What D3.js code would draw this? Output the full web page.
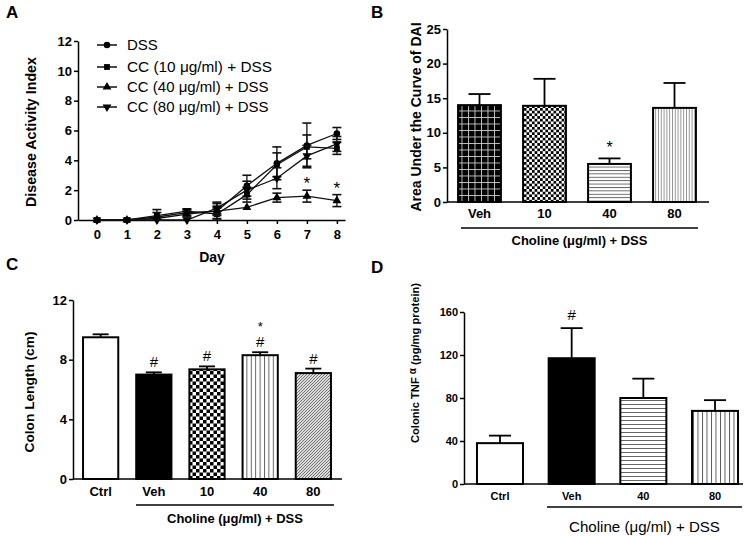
<!DOCTYPE html>
<html><head><meta charset="utf-8">
<script src="https://cdn.jsdelivr.net/npm/d3@7"></script>
<style>
body{margin:0;background:#fff;}
svg{display:block;font-family:"Liberation Sans",Arial,sans-serif;}
</style></head><body>
<svg id="c" width="750" height="536"></svg>
<script>
// ---------- Panel A data ----------
const days = [0,1,2,3,4,5,6,7,8];
const dayTicks = [0,1,2,3,4,5,6,7,8];
const daiTicks = [0,2,4,6,8,10,12];
const seriesNames = ["DSS","CC (10 μg/ml) + DSS","CC (40 μg/ml) + DSS","CC (80 μg/ml) + DSS"];
const dssMean   = [0,0,0.2,0.5,0.6,2.3,3.8,5.0,5.8];
const dssErr    = [0.05,0.05,0.3,0.2,0.5,0.7,1.1,1.5,0.4];
const cc10Mean  = [0,0,0.3,0.6,0.4,1.7,3.7,4.9,4.8];
const cc10Err   = [0.05,0.05,0.4,0.15,0.4,0.5,0.8,0.8,0.4];
const cc40Mean  = [0,0,0.1,0.4,0.6,0.85,1.5,1.6,1.3];
const cc40Err   = [0.05,0.05,0.1,0.2,0.3,0.1,0.3,0.4,0.4];
const cc80Mean  = [0,0,0.0,0.0,0.8,2.0,2.8,4.3,5.1];
const cc80Err   = [0.05,0.05,0.1,0.1,0.4,0.6,0.7,0.7,0.5];
const sigDaysA  = [7,8];

// ---------- Panel B data ----------
const catsB = ["Veh","10","40","80"];
const aucMean = [14.0,13.9,5.5,13.6];
const aucErr  = [1.6,3.9,0.8,3.6];
const aucTicks = [0,5,10,15,20,25];

// ---------- Panel C data ----------
const catsC = ["Ctrl","Veh","10","40","80"];
const colonMean = [9.5,7.0,7.35,8.3,7.1];
const colonErr  = [0.2,0.15,0.2,0.2,0.3];
const colonTicks = [0,4,8,12];
const colonHash = [false,true,true,true,true];
const colonStar = [false,false,false,true,false];

// ---------- Panel D data ----------
const catsD = ["Ctrl","Veh","40","80"];
const tnfMean = [38,117,80,68];
const tnfErr  = [7,28,18,10];
const tnfTicks = [0,40,80,120,160];
const tnfMarks = ["","#","",""];

const svg = d3.select("#c");
const defs = svg.append("defs");

function fit(sel,len){
  const cur = sel.node().getComputedTextLength();
  const fs = +sel.attr("font-size");
  if (cur>0) sel.attr("font-size", (fs*len/cur).toFixed(2));
  return sel;
}

// ---------- patterns ----------
function pat(id,w,h,draw){
  const p = defs.append("pattern").attr("id",id).attr("patternUnits","userSpaceOnUse").attr("width",w).attr("height",h);
  draw(p);
}
pat("gridB",6.5,6.5,p=>{
  p.append("rect").attr("width",6.5).attr("height",6.5).attr("fill","#000");
  p.append("line").attr("x1",0).attr("y1",0.5).attr("x2",6.5).attr("y2",0.5).attr("stroke","#ccc").attr("stroke-width",0.9);
  p.append("line").attr("x1",0.5).attr("y1",0).attr("x2",0.5).attr("y2",6.5).attr("stroke","#ccc").attr("stroke-width",0.9);
});
pat("checkB",5.4,5.4,p=>{
  p.append("rect").attr("width",5.4).attr("height",5.4).attr("fill","#fff");
  p.append("rect").attr("width",2.7).attr("height",2.7).attr("fill","#000");
  p.append("rect").attr("x",2.7).attr("y",2.7).attr("width",2.7).attr("height",2.7).attr("fill","#000");
});
pat("hlineB",4,3.4,p=>{
  p.append("rect").attr("width",4).attr("height",3.4).attr("fill","#fff");
  p.append("line").attr("x1",0).attr("y1",0.5).attr("x2",4).attr("y2",0.5).attr("stroke","#333").attr("stroke-width",0.8);
});
pat("vlineB",2.8,4,p=>{
  p.append("rect").attr("width",2.8).attr("height",4).attr("fill","#fff");
  p.append("line").attr("x1",0.5).attr("y1",0).attr("x2",0.5).attr("y2",4).attr("stroke","#777").attr("stroke-width",0.8);
});
pat("checkC",7,7,p=>{
  p.append("rect").attr("width",7).attr("height",7).attr("fill","#fff");
  p.append("rect").attr("width",3.5).attr("height",3.5).attr("fill","#000");
  p.append("rect").attr("x",3.5).attr("y",3.5).attr("width",3.5).attr("height",3.5).attr("fill","#000");
});
pat("vlineC",4.4,4,p=>{
  p.append("rect").attr("width",4.4).attr("height",4).attr("fill","#fff");
  p.append("line").attr("x1",0.5).attr("y1",0).attr("x2",0.5).attr("y2",4).attr("stroke","#555").attr("stroke-width",0.9);
});
pat("diagC",3,3,p=>{
  p.append("rect").attr("width",3).attr("height",3).attr("fill","#ddd");
  p.append("path").attr("d","M-1,4 L4,-1 M-1,1 L1,-1 M2,4 L4,2").attr("stroke","#555").attr("stroke-width",0.8);
});
pat("hlineD",4,4,p=>{
  p.append("rect").attr("width",4).attr("height",4).attr("fill","#fff");
  p.append("line").attr("x1",0).attr("y1",0.5).attr("x2",4).attr("y2",0.5).attr("stroke","#555").attr("stroke-width",0.9);
});
pat("vlineD",4.5,4,p=>{
  p.append("rect").attr("width",4.5).attr("height",4).attr("fill","#fff");
  p.append("line").attr("x1",0.5).attr("y1",0).attr("x2",0.5).attr("y2",4).attr("stroke","#444").attr("stroke-width",0.9);
});

function panelLabel(t,x,y){
  svg.append("text").attr("x",x).attr("y",y).attr("font-size",17).attr("font-weight","bold").text(t);
}
function styleAxis(g,fs){
  g.selectAll("path,line").attr("stroke","#000").attr("stroke-width",1.5);
  g.selectAll("text").attr("font-size",fs).attr("font-weight","bold").attr("font-family","Liberation Sans, Arial, sans-serif").attr("fill","#000");
}

// ================= Panel A =================
panelLabel("A",6,18);
const xA = d3.scaleLinear().domain([-0.63,8.27]).range([78,345]);
const yA = d3.scaleLinear().domain([0,12]).range([220,41]);
const gA = svg.append("g");
const axYA = gA.append("g").attr("transform","translate(78,0)")
  .call(d3.axisLeft(yA).tickValues(daiTicks).tickSize(4).tickSizeOuter(0).tickPadding(2));
styleAxis(axYA,13);
const axXA = gA.append("g").attr("transform","translate(0,220)")
  .call(d3.axisBottom(xA).tickValues(dayTicks).tickSize(4).tickSizeOuter(0).tickPadding(6));
styleAxis(axXA,13);
fit(gA.append("text").attr("transform","translate(36,132) rotate(-90)").attr("text-anchor","middle")
  .attr("font-size",15).attr("font-weight","bold").text("Disease Activity Index"),150);
gA.append("text").attr("x",212).attr("y",262).attr("text-anchor","middle")
  .attr("font-size",14).attr("font-weight","bold").text("Day");

const seriesA = [
  {name:seriesNames[0],m:dssMean,e:dssErr,sym:d3.symbolCircle,rot:0},
  {name:seriesNames[1],m:cc10Mean,e:cc10Err,sym:d3.symbolSquare,rot:0},
  {name:seriesNames[2],m:cc40Mean,e:cc40Err,sym:d3.symbolTriangle,rot:0},
  {name:seriesNames[3],m:cc80Mean,e:cc80Err,sym:d3.symbolTriangle,rot:180}
];
const lineA = d3.line().x((d,i)=>xA(days[i])).y(d=>yA(d));
seriesA.forEach(s=>{
  gA.append("path").attr("d",lineA(s.m)).attr("fill","none").attr("stroke","#111").attr("stroke-width",1.3);
  s.m.forEach((v,i)=>{
    const x=xA(days[i]), y1=yA(v+s.e[i]), y0=yA(Math.max(0,v-s.e[i]));
    if (s.e[i]>0.1){
      gA.append("line").attr("x1",x).attr("x2",x).attr("y1",y1).attr("y2",y0).attr("stroke","#111").attr("stroke-width",1.3);
      gA.append("line").attr("x1",x-4.5).attr("x2",x+4.5).attr("y1",y1).attr("y2",y1).attr("stroke","#111").attr("stroke-width",1.6);
      gA.append("line").attr("x1",x-4.5).attr("x2",x+4.5).attr("y1",y0).attr("y2",y0).attr("stroke","#111").attr("stroke-width",1.6);
    }
    gA.append("path").attr("d",d3.symbol().type(s.sym).size(34)())
      .attr("transform",`translate(${x},${yA(v)}) rotate(${s.rot})`).attr("fill","#000");
  });
});
sigDaysA.forEach(d=>{
  const i = days.indexOf(d);
  gA.append("text").attr("x",xA(d)).attr("y",yA(cc40Mean[i]+cc40Err[i])-1).attr("text-anchor","middle")
    .attr("font-size",17).attr("fill","#000").text("*");
});
// legend
const legY = [45,67,87,107];
seriesA.forEach((s,i)=>{
  const y=legY[i];
  gA.append("line").attr("x1",97).attr("x2",117).attr("y1",y).attr("y2",y).attr("stroke","#111").attr("stroke-width",1.5);
  gA.append("path").attr("d",d3.symbol().type(s.sym).size(34)()).attr("transform",`translate(107,${y}) rotate(${s.rot})`).attr("fill","#000");
  const t = gA.append("text").attr("x",127).attr("y",y+5).attr("font-size",15).attr("fill","#000").text(s.name);
  if (i===1) fit(t,145);
});

// ---------- generic bar panel ----------
function barPanel(o){
  const g = svg.append("g");
  const x = d3.scaleBand().domain(o.cats).range(o.xr).paddingInner(o.pi).paddingOuter(o.po);
  const y = d3.scaleLinear().domain([0,o.ymax]).range(o.yr);
  o.cats.forEach((c,i)=>{
    const v=o.mean[i], e=o.err[i], xc=x(c)+x.bandwidth()/2;
    g.append("line").attr("x1",xc).attr("x2",xc).attr("y1",y(v)).attr("y2",y(v+e)).attr("stroke","#000").attr("stroke-width",1.8);
    g.append("line").attr("x1",xc-o.cap).attr("x2",xc+o.cap).attr("y1",y(v+e)).attr("y2",y(v+e)).attr("stroke","#000").attr("stroke-width",1.8);
    g.append("rect").attr("x",x(c)+1).attr("y",y(v)).attr("width",x.bandwidth()-2).attr("height",y(0)-y(v))
      .attr("fill",o.fills[i]).attr("stroke","#000").attr("stroke-width",2);
  });
  const ay = g.append("g").attr("transform",`translate(${o.xr[0]},0)`)
    .call(d3.axisLeft(y).tickValues(o.ticks).tickSize(4).tickSizeOuter(0).tickPadding(2));
  styleAxis(ay,o.tfs);
  const ax = g.append("g").attr("transform",`translate(0,${o.yr[0]})`)
    .call(d3.axisBottom(x).tickSize(0).tickSizeOuter(0).tickPadding(o.tpad));
  styleAxis(ax,o.xfs);
  ax.select(".domain").remove();
  g.append("line").attr("x1",o.xr[0]).attr("x2",o.axEnd).attr("y1",o.yr[0]).attr("y2",o.yr[0]).attr("stroke","#000").attr("stroke-width",1.5);
  g.append("line").attr("x1",o.gl[0]).attr("x2",o.gl[1]).attr("y1",o.gly).attr("y2",o.gly).attr("stroke","#000").attr("stroke-width",1.5);
  fit(g.append("text").attr("x",(o.gl[0]+o.gl[1])/2).attr("y",o.gty).attr("text-anchor","middle")
    .attr("font-size",o.gfs).attr("font-weight",o.gfw).text("Choline (μg/ml) + DSS"),o.glen);
  return {g,x,y};
}

// ================= Panel B =================
panelLabel("B",371,18);
const pB = barPanel({cats:catsB,mean:aucMean,err:aucErr,ymax:25,ticks:aucTicks,
  xr:[447,707],yr:[202,29],pi:0.31,po:0.155,cap:11,tfs:13,xfs:13,tpad:7,axEnd:709,
  fills:["url(#gridB)","url(#checkB)","url(#hlineB)","url(#vlineB)"],
  gl:[461,698],gly:228,gty:245,gfs:13,gfw:"bold",glen:136});
fit(pB.g.append("text").attr("transform","translate(421,117) rotate(-90)").attr("text-anchor","middle")
  .attr("font-size",13).attr("font-weight","bold").text("Area Under the Curve of DAI"),189);
pB.g.append("text").attr("x",pB.x("40")+pB.x.bandwidth()/2).attr("y",pB.y(aucMean[2]+aucErr[2])-5)
  .attr("text-anchor","middle").attr("font-size",16).text("*");

// ================= Panel C =================
panelLabel("C",6,270);
const pC = barPanel({cats:catsC,mean:colonMean,err:colonErr,ymax:12,ticks:colonTicks,
  xr:[73,341],yr:[479,300],pi:0.3,po:0.17,cap:8,tfs:13,xfs:13,tpad:8,axEnd:342,
  fills:["#fff","#000","url(#checkC)","url(#vlineC)","url(#diagC)"],
  gl:[136,334],gly:505,gty:523,gfs:13,gfw:"bold",glen:136});
fit(pC.g.append("text").attr("transform","translate(34,392) rotate(-90)").attr("text-anchor","middle")
  .attr("font-size",14).attr("font-weight","bold").text("Colon Length (cm)"),121);
catsC.forEach((c,i)=>{
  const xc = pC.x(c)+pC.x.bandwidth()/2;
  const top = pC.y(colonMean[i]+colonErr[i]);
  if (colonHash[i]) pC.g.append("text").attr("x",xc).attr("y",top-5).attr("text-anchor","middle").attr("font-size",15).text("#");
  if (colonStar[i]) pC.g.append("text").attr("x",xc).attr("y",top-5-16.5).attr("text-anchor","middle").attr("font-size",13).text("*");
});

// ================= Panel D =================
panelLabel("D",371,273);
const pD = barPanel({cats:catsD,mean:tnfMean,err:tnfErr,ymax:160,ticks:tnfTicks,
  xr:[464,751],yr:[484,312],pi:0.33,po:0.167,cap:11,tfs:11,xfs:11,tpad:8,axEnd:743,
  fills:["#fff","#000","url(#hlineD)","url(#vlineD)"],
  gl:[547,742],gly:507,gty:532,gfs:15,gfw:"normal",glen:151});
const tD = pD.g.append("text").attr("transform","translate(419,363) rotate(-90)").attr("text-anchor","middle")
  .attr("font-size",11.5).attr("font-weight","bold");
tD.append("tspan").text("Colonic TNF ");
tD.append("tspan").attr("font-size",10).attr("dy",-3).text("α");
tD.append("tspan").attr("dy",3).text(" (pg/mg protein)");
fit(tD,160);
catsD.forEach((c,i)=>{
  if(!tnfMarks[i]) return;
  pD.g.append("text").attr("x",pD.x(c)+pD.x.bandwidth()/2).attr("y",pD.y(tnfMean[i]+tnfErr[i])-8)
    .attr("text-anchor","middle").attr("font-size",15).text(tnfMarks[i]);
});
</script></body></html>
